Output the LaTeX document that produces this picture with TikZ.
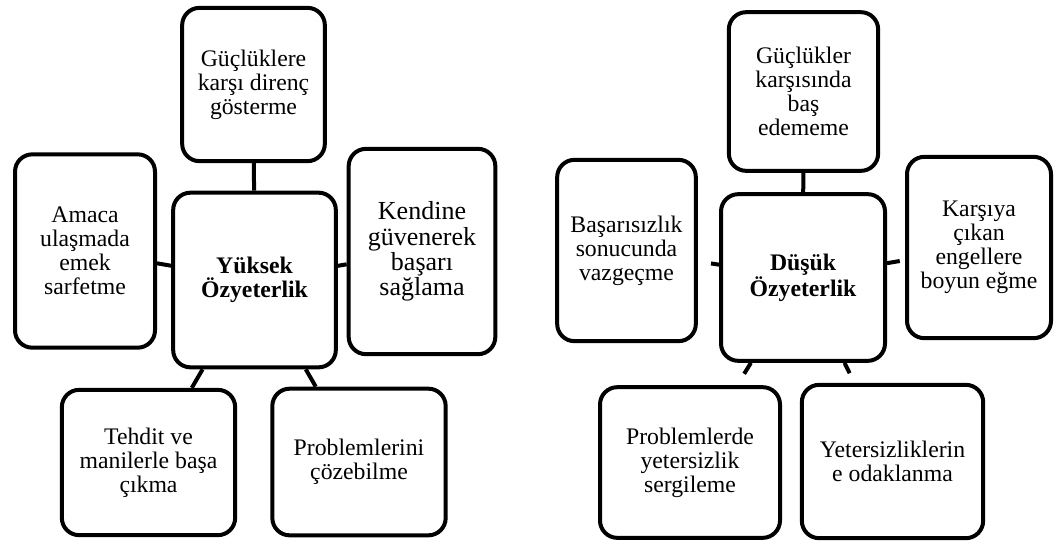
\documentclass[tikz,border=0pt]{standalone}
\usepackage{fontspec}
\setmainfont{Liberation Serif}
\usetikzlibrary{positioning}

\begin{document}
\begin{tikzpicture}[x=0.75pt, y=-0.75pt,
    box/.style={draw, line width=3pt, rounded corners=13pt, align=center, inner sep=1pt, font=\fontsize{17.8}{18}\selectfont},
    hub/.style={box, font=\fontsize{17.8}{18}\selectfont\bfseries},
    link/.style={line width=3pt}
]
    \useasboundingbox (0,0) rectangle (1056,544);

    % Yüksek Özyeterlik
    \node[hub, minimum width=122pt, minimum height=131pt] (yuksek) at (254.5,280) {Yüksek\\Özyeterlik};
    \node[box, minimum width=107pt, minimum height=115pt] (direnc) at (253.5,84.5) {Güçlüklere\\karşı direnç\\gösterme};
    \node[box, minimum width=105pt, minimum height=145pt] (emek) at (85,251) {Amaca\\ulaşmada\\emek\\sarfetme};
    \node[box, minimum width=110pt, minimum height=154pt, font=\fontsize{19.5}{19}\selectfont] (guven) at (422,251.5) {Kendine\\güvenerek\\başarı\\sağlama};
    \node[box, minimum width=130pt, minimum height=109pt] (tehdit) at (148.5,462.5) {Tehdit ve\\manilerle başa\\çıkma};
    \node[box, minimum width=130pt, minimum height=110pt] (cozum) at (359,462) {Problemlerini\\çözebilme};

    \draw[link] (yuksek) -- (direnc);
    \draw[link] (yuksek) -- (emek);
    \draw[link] (yuksek) -- (guven);
    \draw[link] (yuksek) -- (tehdit);
    \draw[link] (yuksek) -- (cozum);

    % Düşük Özyeterlik
    \node[hub, minimum width=123pt, minimum height=125pt] (dusuk) at (803,277.5) {Düşük\\Özyeterlik};
    \node[box, minimum width=112pt, minimum height=119pt] (basedeme) at (803.5,91.5) {Güçlükler\\karşısında\\baş\\edememe};
    \node[box, minimum width=104pt, minimum height=136pt] (vazgecme) at (626.5,250.5) {Başarısızlık\\sonucunda\\vazgeçme};
    \node[box, minimum width=108pt, minimum height=136pt] (boyun) at (979,247.5) {Karşıya\\çıkan\\engellere\\boyun eğme};
    \node[box, minimum width=135pt, minimum height=113pt] (yetersiz) at (690,462.5) {Problemlerde\\yetersizlik\\sergileme};
    \node[box, minimum width=136pt, minimum height=115pt] (odak) at (892.5,461.5) {Yetersizliklerin\\e odaklanma};

    \draw[link] (dusuk) -- (basedeme);
    \draw[link, shorten >=10pt] (dusuk) -- (vazgecme);
    \draw[link, shorten >=4pt] (dusuk) -- (boyun);
    \draw[link, shorten >=10pt] (dusuk) -- (yetersiz);
    \draw[link, shorten >=8pt] (dusuk) -- (odak);
\end{tikzpicture}
\end{document}
